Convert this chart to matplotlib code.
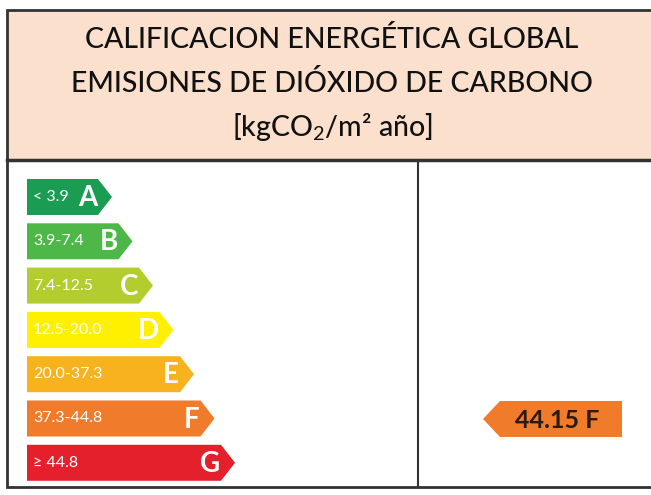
import matplotlib.pyplot as plt
from matplotlib.patches import Polygon, Rectangle

# datos de la etiqueta
titulo = ["CALIFICACION ENERGÉTICA GLOBAL",
          "EMISIONES DE DIÓXIDO DE CARBONO",
          r"[kgCO$_2$/m² año]"]
letras = ["A", "B", "C", "D", "E", "F", "G"]
rangos = ["< 3.9", "3.9-7.4", "7.4-12.5", "12.5-20.0", "20.0-37.3", "37.3-44.8", "≥ 44.8"]
colores = ["#1a9c52", "#4db848", "#b3cd2e", "#fff000", "#f7b21e", "#ef7b2b", "#e3202b"]
valor = 44.15
clase = "F"

plt.rcParams['font.family'] = ['Lato', 'DejaVu Sans']
plt.rcParams['mathtext.fontset'] = 'custom'
plt.rcParams['mathtext.rm'] = 'Lato'

fig = plt.figure(figsize=(6.51, 4.95), dpi=100)
ax = fig.add_axes([0, 0, 1, 1])
ax.set_xlim(0, 651)
ax.set_ylim(495, 0)
ax.axis('off')

borde = '#333333'
# cabecera
ax.add_patch(Rectangle((7, 10), 660, 150, facecolor='#fae0cd', edgecolor=borde, lw=2))
for i, linea in enumerate(titulo):
    ax.text(332, 40 + i * 43.5, linea, ha='center', va='center', fontsize=20.5,
            fontweight='medium', color='#111111')

# cuerpo
ax.add_patch(Rectangle((7, 160), 660, 327, facecolor='white', edgecolor=borde, lw=2))
ax.plot([7, 651], [160, 160], color=borde, lw=2.5)
ax.plot([418, 418], [160, 487], color=borde, lw=1.5)

# flechas de clase
x0, alto, paso, y0 = 27, 36, 44.3, 179
for i, (l, r, c) in enumerate(zip(letras, rangos, colores)):
    top = y0 + i * paso
    fin = 98 + i * 20.5
    punta = 14
    ax.add_patch(Polygon([(x0, top), (fin, top), (fin + punta, top + alto / 2),
                          (fin, top + alto), (x0, top + alto)],
                         closed=True, facecolor=c, edgecolor='none'))
    ax.text(x0 + 6, top + alto / 2, r, ha='left', va='center', fontsize=11.5, color='white')
    ax.text(fin - 1, top + alto / 2 + 1, l, ha='right', va='center', fontsize=20,
            fontweight='bold', color='white')

# indicador del edificio
k = letras.index(clase)
top = y0 + k * paso + 0.5
ax.add_patch(Polygon([(483, top + alto / 2), (500, top), (622, top), (622, top + alto),
                      (500, top + alto)], closed=True, facecolor=colores[k], edgecolor='none'))
ax.text(557, top + alto / 2 + 1, f"{valor} {clase}", ha='center', va='center',
        fontsize=18, fontweight='bold', color='#2a1a10')

fig.savefig('out.png', dpi=100)
